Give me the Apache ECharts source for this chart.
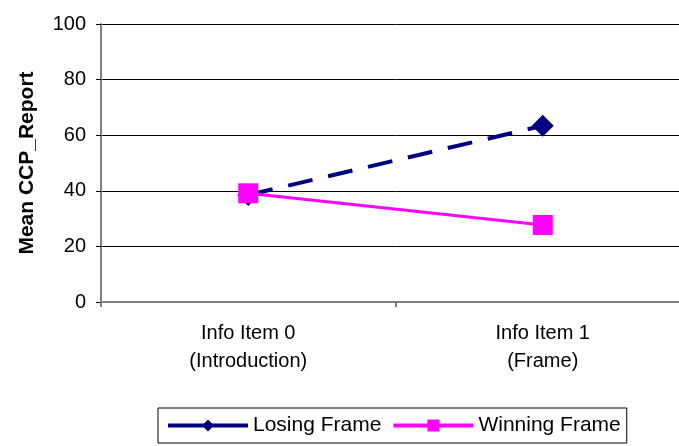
<!DOCTYPE html>
<html>
<head>
<meta charset="utf-8">
<script src="https://cdn.jsdelivr.net/npm/echarts@6/dist/echarts.min.js"></script>
<style>
  html, body { margin: 0; padding: 0; background: #fff; overflow: hidden; width: 679px; height: 446px; }
  /* the plot area runs a little past the right edge of the page */
  #chart { width: 700px; height: 446px; }
</style>
</head>
<body>
<div id="chart"></div>
<script>
// Mean CCP_Report by information item, for the two framing conditions
const categories = ['Info Item 0\n(Introduction)', 'Info Item 1\n(Frame)'];
const losingFrame = [38.5, 63.4];
const winningFrame = [39.1, 27.7];
const yTicks = { min: 0, max: 100, interval: 20 };

const chart = echarts.init(document.getElementById('chart'));
const font = 'Arial, "Liberation Sans", sans-serif';

chart.setOption({
  animation: false,
  grid: { left: 101, top: 24, width: 589, height: 278 },
  xAxis: {
    type: 'category',
    data: categories,
    boundaryGap: true,
    axisLine: { lineStyle: { color: '#808080', width: 2 } },
    axisTick: { show: true, length: 5, inside: false, lineStyle: { color: '#808080', width: 2 } },
    axisLabel: { color: '#000', fontFamily: font, fontSize: 20, lineHeight: 28, margin: 17 },
    splitLine: { show: false }
  },
  yAxis: {
    type: 'value',
    min: yTicks.min, max: yTicks.max, interval: yTicks.interval,
    name: 'Mean CCP_Report',
    nameLocation: 'middle',
    nameGap: 63,
    nameTextStyle: { color: '#000', fontFamily: font, fontSize: 21, fontWeight: 'bold' },
    axisLine: { show: true, lineStyle: { color: '#808080', width: 2 } },
    axisTick: { show: true, length: 5, lineStyle: { color: '#000', width: 1 } },
    axisLabel: { color: '#000', fontFamily: font, fontSize: 20, margin: 15 },
    splitLine: { show: true, lineStyle: { color: '#000', width: 1 } }
  },
  legend: {
    left: 158, top: 408,
    padding: [7, 6, 7, 8],
    borderColor: '#000', borderWidth: 1,
    itemWidth: 80, itemHeight: 15, itemGap: 10,
    textStyle: { color: '#000', fontFamily: font, fontSize: 21 },
    data: [
      { name: 'Losing Frame', lineStyle: { type: 'solid', width: 4 } },
      { name: 'Winning Frame', lineStyle: { type: 'solid', width: 4 } }
    ]
  },
  series: [
    {
      name: 'Losing Frame',
      type: 'line',
      data: losingFrame,
      symbol: 'diamond',
      symbolSize: 22,
      itemStyle: { color: '#000080' },
      lineStyle: { color: '#000080', width: 4, type: [25, 16] },
      z: 2
    },
    {
      name: 'Winning Frame',
      type: 'line',
      data: winningFrame,
      symbol: 'rect',
      symbolSize: 20,
      itemStyle: { color: '#ff00ff' },
      lineStyle: { color: '#ff00ff', width: 3 },
      z: 3
    }
  ]
});
</script>
</body>
</html>
